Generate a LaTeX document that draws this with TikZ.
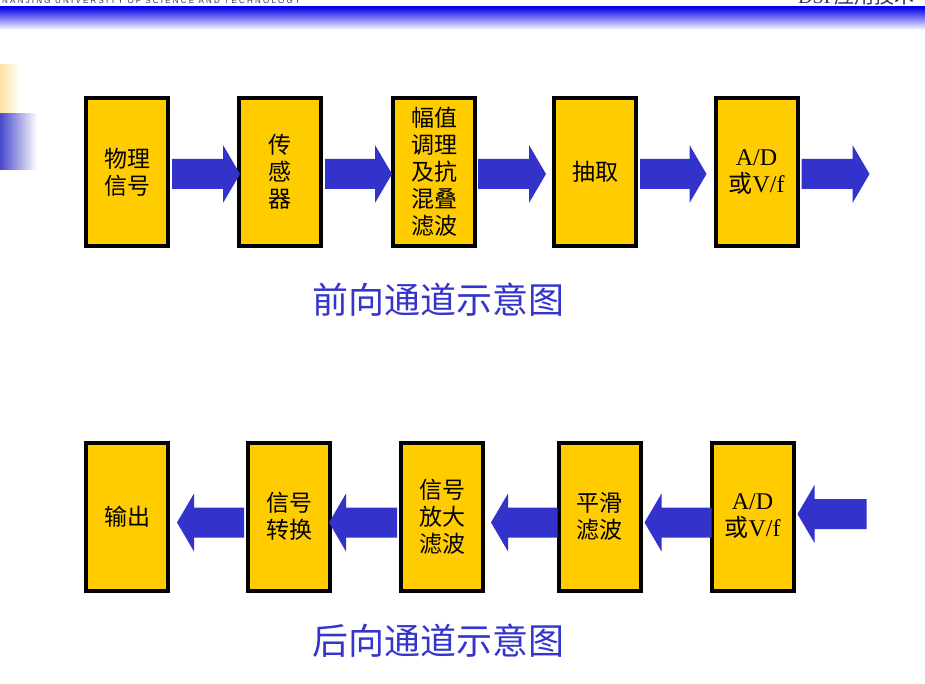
\documentclass[tikz,border=0pt]{standalone}
\usepackage{fontspec}
\setmainfont{Liberation Serif}
\setsansfont{Liberation Sans}
\newfontfamily\cjk{Noto Sans CJK SC}
\usetikzlibrary{calc}
\definecolor{boxgold}{HTML}{FFCC00}
\definecolor{arrblue}{HTML}{3333CC}
\definecolor{titleblue}{HTML}{3535CC}
\definecolor{hdrblue}{HTML}{0000E6}
\definecolor{decoorange}{HTML}{FFE2A0}
\definecolor{decoblue}{HTML}{4848CC}
\definecolor{hdrtext}{HTML}{333355}
\tikzset{
  blk/.style={draw=black, line width=4pt, fill=boxgold, minimum width=82pt,
    minimum height=148pt, inner sep=0pt, align=center,
    font=\fontsize{23}{27}\selectfont\cjk},
  adblk/.style={blk, font=\fontsize{24}{27}\selectfont\rmfamily},
  titletext/.style={text=titleblue, inner sep=0pt, font=\fontsize{36}{40}\selectfont\cjk},
  barrow/.style={fill=arrblue},
}
\newcommand\blockarrow[2]{%
  \coordinate (h) at ($(#2)!17pt!(#1)$);
  \fill[barrow] ($(#1)+(0,15pt)$) -- ($(h)+(0,15pt)$) -- ($(h)+(0,29pt)$) -- (#2)
    -- ($(h)+(0,-29pt)$) -- ($(h)+(0,-15pt)$) -- ($(#1)+(0,-15pt)$) -- cycle;}
\begin{document}
\begin{tikzpicture}[x=1pt,y=-1pt]
\useasboundingbox (0,0) rectangle (925,684);
% header
\shade[top color=hdrblue, bottom color=white] (0,7) rectangle (925,30);
\node[anchor=south west, inner sep=0pt, text=hdrtext,
  font=\sffamily\fontsize{8}{8}\selectfont] (hdrl) at (2,4)
  {N A N J I N G \ U N I V E R S I T Y \ O F \ S C I E N C E \ A N D \ T E C H N O L O G Y};
\node[anchor=south west, inner sep=0pt, text=hdrtext,
  font=\fontsize{20}{20}\selectfont] (hdrr) at (798,5) {DSP{\cjk 应用技术}};
% left decoration
\shade[left color=decoorange, right color=white] (0,65) rectangle (20,113);
\shade[left color=decoblue, right color=white] (0,114) rectangle (37,170);
% forward channel
\node[blk] (t1) at (127,172) {物理\\信号};
\node[blk] (t2) at (280,172) {传\\感\\器};
\node[blk] (t3) at (434,172) {幅值\\调理\\及抗\\混叠\\滤波};
\node[blk] (t4) at (595,172) {抽取};
\node[adblk] (t5) at (756.5,172) {A/D\\{\cjk 或}V/f};
\coordinate (a1s) at ($(t1.east)+(2,2)$);
\coordinate (a1e) at ($(t2.west)+(3,2)$);
\coordinate (a2s) at ($(t2.east)+(2,2)$);
\coordinate (a2e) at ($(t3.west)+(1,2)$);
\coordinate (a3s) at ($(t3.east)+(1,2)$);
\coordinate (a3e) at ($(t4.west)+(-6,2)$);
\coordinate (a4s) at ($(t4.east)+(2,2)$);
\coordinate (a4e) at ($(t5.west)+(-7,2)$);
\coordinate (a5s) at ($(t5.east)+(2,2)$);
\coordinate (a5e) at ($(a5s)+(68,0)$);
\blockarrow{a1s}{a1e}
\blockarrow{a2s}{a2e}
\blockarrow{a3s}{a3e}
\blockarrow{a4s}{a4e}
\blockarrow{a5s}{a5e}
\node[titletext] (title1) at (438,300) {前向通道示意图};
% backward channel
\node[blk] (b1) at (127,516.5) {输出};
\node[blk] (b2) at (289,516.5) {信号\\转换};
\node[blk] (b3) at (442,516.5) {信号\\放大\\滤波};
\node[blk] (b4) at (599.5,516.5) {平滑\\滤波};
\node[adblk] (b5) at (752.5,516.5) {A/D\\{\cjk 或}V/f};
\coordinate (c1s) at ($(b2.west)+(-2,6)$);
\coordinate (c1e) at ($(b1.east)+(7,6)$);
\coordinate (c2s) at ($(b3.west)+(-2,6)$);
\coordinate (c2e) at ($(b2.east)+(-3,6)$);
\coordinate (c3s) at ($(b4.west)+(1,6)$);
\coordinate (c3e) at ($(b3.east)+(6,6)$);
\coordinate (c4s) at ($(b5.west)+(2,6)$);
\coordinate (c4e) at ($(b4.east)+(2,6)$);
\coordinate (c5e) at ($(b5.east)+(2,-2.5)$);
\coordinate (c5s) at ($(c5e)+(69,0)$);
\blockarrow{c1s}{c1e}
\blockarrow{c2s}{c2e}
\blockarrow{c3s}{c3e}
\blockarrow{c4s}{c4e}
\blockarrow{c5s}{c5e}
\node[titletext] (title2) at (438,641) {后向通道示意图};
\end{tikzpicture}
\end{document}
